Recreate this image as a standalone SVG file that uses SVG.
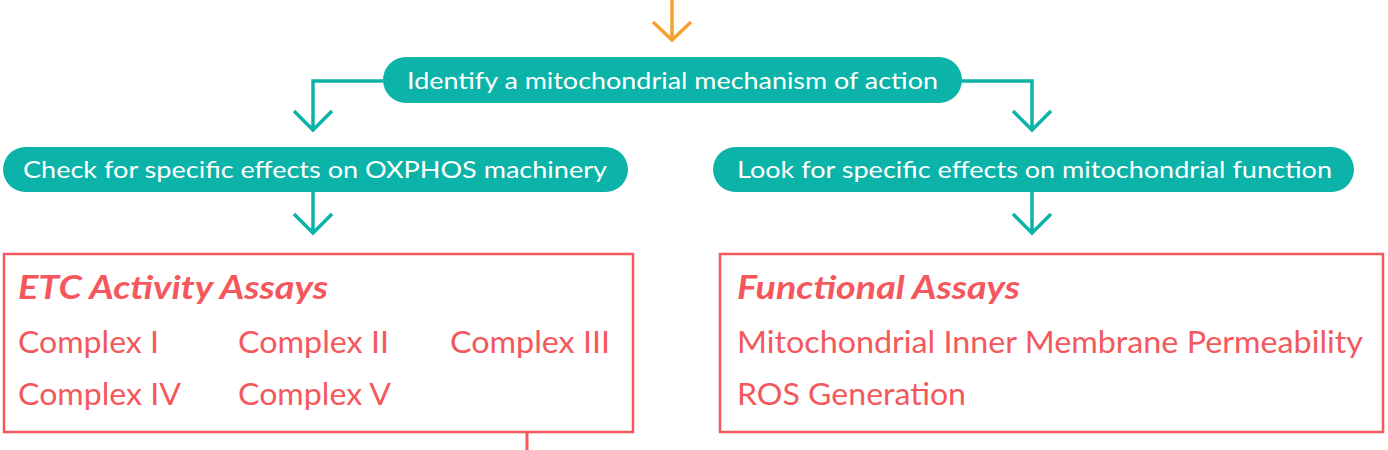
<svg xmlns="http://www.w3.org/2000/svg" width="1388" height="450" viewBox="0 0 1388 450">
<style>
.pill{fill:#0cb3a8}
.pt{font-family:Lato,"Open Sans",sans-serif;font-size:23.5px;fill:#ffffff}
.box{fill:#ffffff;stroke:#f4585c;stroke-width:2.5}
.h{font-family:Lato,sans-serif;font-size:33px;font-weight:bold;font-style:italic;fill:#f4585c}
.t{font-family:Lato,sans-serif;font-size:30px;fill:#f4585c}
.c{fill:none;stroke:#0cb3a8;stroke-width:3.5;stroke-linecap:butt;stroke-linejoin:miter}
.o{fill:none;stroke:#f7a030;stroke-width:3.5}
</style>
<rect width="1388" height="450" fill="#ffffff"/>
<g id="connectors">
<path class="o" d="M672 0V40M653 22L672 40L691 22"/>
<path class="c" d="M383 81H313V129M294 111L313 130L332 111"/>
<path class="c" d="M962 81H1032V129M1013 111L1032 130L1051 111"/>
<path class="c" d="M313 192V232M294 214L313 233L332 214"/>
<path class="c" d="M1032 192V232M1013 214L1032 233L1051 214"/>
<path d="M527 432V450" stroke="#f4585c" stroke-width="3" fill="none"/>
</g>
<g id="n-identify">
<rect class="pill" x="383" y="57" width="579" height="46" rx="23"/>
<text class="pt" x="407" y="88.5" textLength="531" lengthAdjust="spacingAndGlyphs">Identify a mitochondrial mechanism of action</text>
</g>
<g id="n-oxphos">
<rect class="pill" x="3" y="147" width="625" height="45" rx="22.5"/>
<text class="pt" x="23" y="177.5" textLength="584" lengthAdjust="spacingAndGlyphs">Check for specific effects on OXPHOS machinery</text>
</g>
<g id="n-function">
<rect class="pill" x="713" y="147" width="641" height="45" rx="22.5"/>
<text class="pt" x="737" y="177.5" textLength="595" lengthAdjust="spacingAndGlyphs">Look for specific effects on mitochondrial function</text>
</g>
<g id="n-etc">
<rect class="box" x="4" y="254" width="629" height="178"/>
<text class="h" x="18" y="299" textLength="310" lengthAdjust="spacingAndGlyphs">ETC Activity Assays</text>
<text class="t" x="18" y="353" textLength="141" lengthAdjust="spacingAndGlyphs">Complex I</text>
<text class="t" x="238" y="353" textLength="151" lengthAdjust="spacingAndGlyphs">Complex II</text>
<text class="t" x="450" y="353" textLength="160" lengthAdjust="spacingAndGlyphs">Complex III</text>
<text class="t" x="18" y="405" textLength="163" lengthAdjust="spacingAndGlyphs">Complex IV</text>
<text class="t" x="238" y="405" textLength="153" lengthAdjust="spacingAndGlyphs">Complex V</text>
</g>
<g id="n-functional">
<rect class="box" x="720" y="254" width="663" height="178"/>
<text class="h" x="737" y="299" textLength="283" lengthAdjust="spacingAndGlyphs">Functional Assays</text>
<text class="t" x="737" y="353" textLength="626" lengthAdjust="spacingAndGlyphs">Mitochondrial Inner Membrane Permeability</text>
<text class="t" x="737" y="405" textLength="229" lengthAdjust="spacingAndGlyphs">ROS Generation</text>
</g>
</svg>
